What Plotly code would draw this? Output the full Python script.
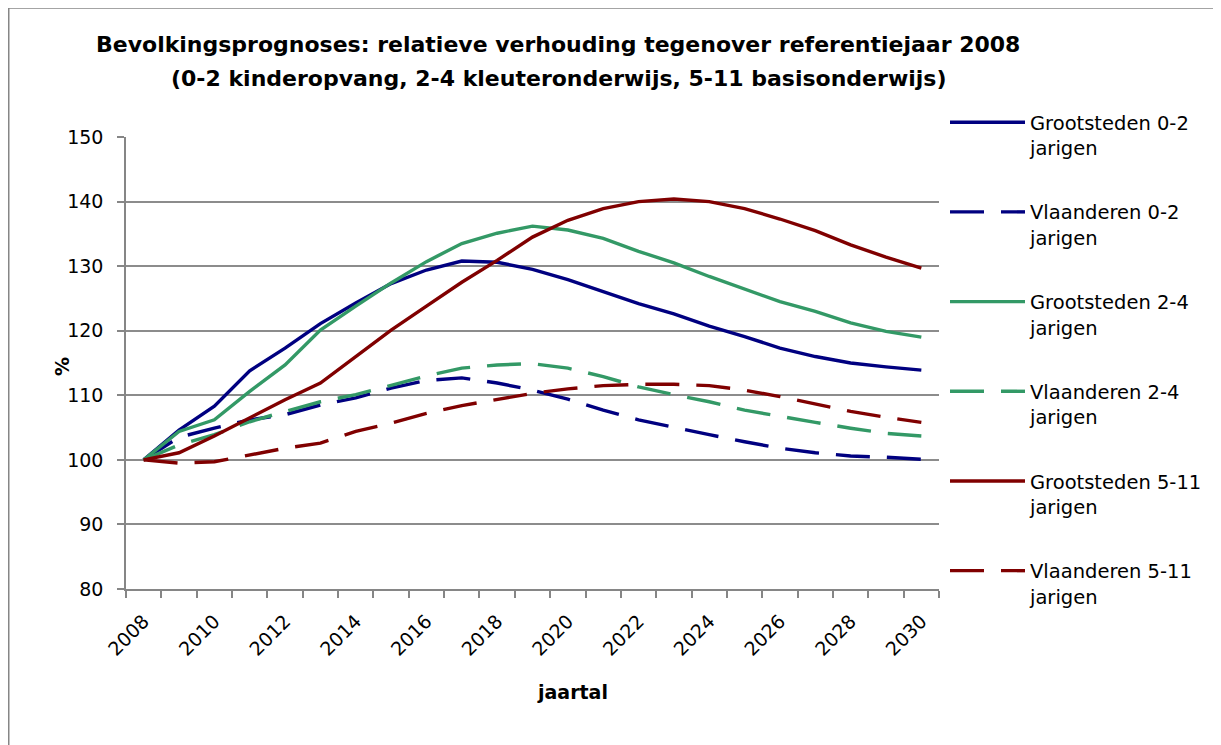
import plotly.graph_objects as go

years = list(range(2008, 2031))

groot_0_2 = [100, 104.6, 108.3, 113.8, 117.3, 121.1, 124.3, 127.3, 129.4, 130.8, 130.6, 129.5,
             127.9, 126.1, 124.2, 122.6, 120.7, 119.1, 117.3, 116.0, 115.0, 114.4, 113.9]
vlaan_0_2 = [100, 103.5, 104.9, 106.2, 107.0, 108.5, 109.6, 111.1, 112.3, 112.7, 111.9, 110.8,
             109.4, 107.7, 106.2, 105.0, 103.9, 102.8, 101.8, 101.1, 100.6, 100.4, 100.1]
groot_2_4 = [100, 104.4, 106.2, 110.6, 114.7, 120.1, 123.8, 127.4, 130.7, 133.5, 135.1, 136.2,
             135.6, 134.3, 132.3, 130.5, 128.4, 126.4, 124.5, 123.0, 121.2, 119.9, 119.0]
vlaan_2_4 = [100, 102.3, 103.9, 105.9, 107.5, 109.0, 110.1, 111.5, 113.0, 114.2, 114.7, 114.9,
             114.2, 112.9, 111.3, 110.1, 109.0, 107.7, 106.7, 105.8, 104.9, 104.1, 103.7]
groot_5_11 = [100, 101.1, 103.7, 106.5, 109.3, 111.9, 116.0, 120.1, 123.8, 127.5, 130.9, 134.5,
              137.1, 138.9, 140.0, 140.4, 140.0, 138.9, 137.3, 135.5, 133.3, 131.4, 129.7]
vlaan_5_11 = [100, 99.5, 99.7, 100.8, 101.8, 102.6, 104.4, 105.7, 107.2, 108.4, 109.4, 110.3,
              111.0, 111.5, 111.7, 111.7, 111.5, 110.8, 109.8, 108.7, 107.5, 106.6, 105.8]

series_names = ["Grootsteden 0-2<br>jarigen", "Vlaanderen 0-2<br>jarigen",
                "Grootsteden 2-4<br>jarigen", "Vlaanderen 2-4<br>jarigen",
                "Grootsteden 5-11<br>jarigen", "Vlaanderen 5-11<br>jarigen"]
series_values = [groot_0_2, vlaan_0_2, groot_2_4, vlaan_2_4, groot_5_11, vlaan_5_11]
series_colors = ["#000080", "#000080", "#339966", "#339966", "#800000", "#800000"]
series_dash = ["solid", "34px,17px", "solid", "34px,17px", "solid", "34px,17px"]

x_tick_labels = [str(y) for y in range(2008, 2031, 2)]
y_ticks = [80, 90, 100, 110, 120, 130, 140, 150]

FONT = "DejaVu Sans, sans-serif"

fig = go.Figure()
for i, (name, vals, col, dash) in enumerate(zip(series_names, series_values, series_colors, series_dash)):
    fig.add_trace(go.Scatter(
        x=years, y=vals, name=name, mode="lines",
        line=dict(color=col, width=3.4, dash=dash),
        legendgroup=f"g{i}",
    ))

W, H = 1213, 737
L, R, T, B = 118, 931, 129, 581
pw, ph = R - L, B - T

def px(xp):
    return (xp - L) / pw

def py(yp):
    return (B - yp) / ph

fig.update_layout(
    width=W, height=H,
    margin=dict(l=L, r=W - R, t=T, b=H - B, autoexpand=False),
    paper_bgcolor="white", plot_bgcolor="white",
    font=dict(family=FONT, size=19, color="black"),
    showlegend=True,
    legend=dict(
        x=px(937), y=py(95), xanchor="left", yanchor="top",
        font=dict(family=FONT, size=19.5, color="black"),
        tracegroupgap=36, itemwidth=75, valign="top",
        bgcolor="rgba(0,0,0,0)", maxheight=660,
    ),
    xaxis=dict(
        range=[2007.5, 2030.5],
        tickmode="array", tickvals=list(range(2008, 2031, 2)), ticktext=x_tick_labels,
        tickangle=-45, ticks="", showgrid=False, zeroline=False,
        showline=True, linecolor="#868686", linewidth=1.5,
        tickfont=dict(family=FONT, size=19), ticklabelstandoff=12,
        minor=dict(tick0=2007.5, dtick=1, ticks="outside", ticklen=7,
                   tickcolor="#868686", tickwidth=1.5, showgrid=False),
    ),
    yaxis=dict(
        range=[80, 150], tickmode="array", tickvals=y_ticks,
        ticks="outside", ticklen=7, tickcolor="#868686", tickwidth=1.5,
        showgrid=True, gridcolor="#8c8c8c", gridwidth=2, zeroline=False,
        showline=True, linecolor="#868686", linewidth=1.5,
        tickfont=dict(family=FONT, size=19), ticklabelstandoff=10,
    ),
    shapes=[dict(type="rect", xref="paper", yref="paper",
                 x0=px(0.75), x1=px(1240), y0=py(0), y1=py(760),
                 line=dict(color="#868686", width=1.5), fillcolor="rgba(0,0,0,0)", layer="below")],
    annotations=[
        dict(text="<b>Bevolkingsprognoses: relatieve verhouding tegenover referentiejaar 2008</b>",
             xref="paper", yref="paper", x=px(550), y=py(37), xanchor="center", yanchor="middle",
             showarrow=False, font=dict(family=FONT, size=22)),
        dict(text="<b>(0-2 kinderopvang, 2-4 kleuteronderwijs, 5-11 basisonderwijs)</b>",
             xref="paper", yref="paper", x=px(550), y=py(70), xanchor="center", yanchor="middle",
             showarrow=False, font=dict(family=FONT, size=22)),
        dict(text="<b>%</b>", xref="paper", yref="paper", x=px(54), y=py(359),
             xanchor="center", yanchor="middle", textangle=-90, showarrow=False,
             font=dict(family=FONT, size=19)),
        dict(text="<b>jaartal</b>", xref="paper", yref="paper", x=px(564), y=py(684),
             xanchor="center", yanchor="middle", showarrow=False,
             font=dict(family=FONT, size=19)),
    ],
)

fig.write_html("out.html")
